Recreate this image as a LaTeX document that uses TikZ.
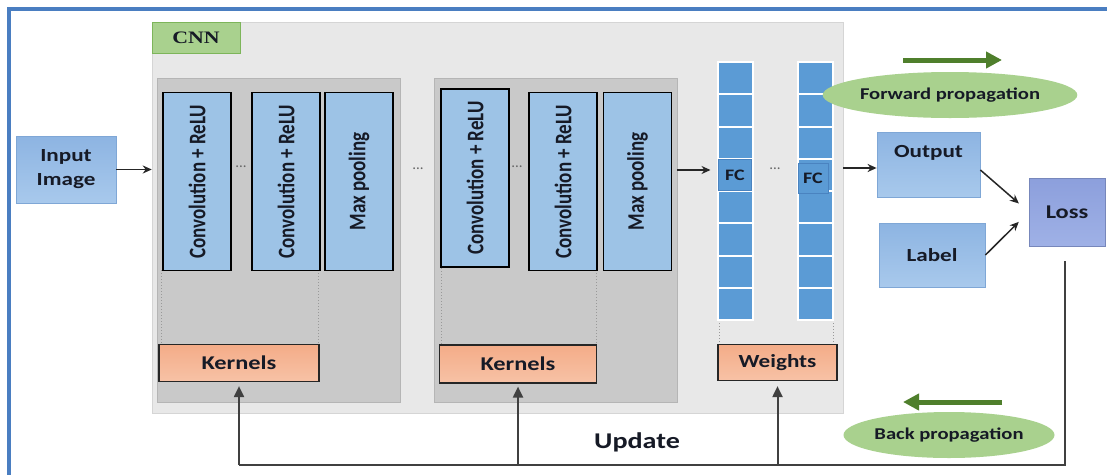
\documentclass[tikz,border=0pt]{standalone}
\usepackage{fontspec}
\usepackage{graphicx}
\setmainfont{Carlito}
\newfontfamily\wf[FakeStretch=1.25]{Carlito}
\newfontfamily\cnnf[FakeStretch=1.25]{Liberation Serif}
\usetikzlibrary{arrows.meta,shapes.geometric,shadings}
\definecolor{frameblue}{HTML}{4A7EC1}
\definecolor{panelA}{HTML}{E8E8E8}
\definecolor{panelB}{HTML}{C9C9C9}
\definecolor{convblue}{HTML}{9DC3E6}
\definecolor{fcblue}{HTML}{5B9BD5}
\definecolor{fcedge}{HTML}{4A83C0}
\definecolor{kerntop}{HTML}{F4AC88}
\definecolor{kernbot}{HTML}{F7C2A6}
\definecolor{cnngreen}{HTML}{A9D18E}
\definecolor{cnnedge}{HTML}{7DB55A}
\definecolor{ellgreen}{HTML}{A9D18E}
\definecolor{arrgreen}{HTML}{4F7F2C}
\definecolor{bxtop}{HTML}{8DB4E2}
\definecolor{bxbot}{HTML}{A8C9EC}
\definecolor{bxedge}{HTML}{7FA7D6}
\definecolor{losstop}{HTML}{8C9FDC}
\definecolor{lossbot}{HTML}{9FB1E6}
\definecolor{txt}{HTML}{161A26}
\definecolor{updgray}{HTML}{404040}
\newcommand{\vtxt}[1]{\scalebox{1}[1.25]{#1}}
\begin{document}
\begin{tikzpicture}[x=1pt,y=-1pt,
  convbox/.style={draw=black, line width=1.6pt, fill=convblue, minimum width=178pt,
    minimum height=68pt, rotate=90, inner sep=0pt, text=txt,
    font=\bfseries\fontsize{19}{19}\selectfont},
  panelin/.style={fill=panelB, draw=panelB!90!black, line width=0.6pt, minimum width=243pt,
    minimum height=324pt, inner sep=0pt},
  kernbox/.style={draw=black!85, line width=1.2pt, top color=kerntop, bottom color=kernbot,
    minimum height=37pt, inner sep=0pt, text=txt, font=\wf\bfseries\fontsize{19.5}{19.5}\selectfont},
  bluebox/.style={draw=bxedge, line width=0.8pt, top color=bxtop, bottom color=bxbot,
    inner sep=0pt, text=txt, font=\wf\bfseries\fontsize{18.5}{24}\selectfont, align=center},
  fccol/.style={draw=white, line width=2pt, fill=fcblue, minimum width=35pt,
    minimum height=258pt, inner sep=0pt},
  fclab/.style={draw=fcedge, line width=0.6pt, fill=fcblue, inner sep=0pt, text=txt,
    font=\wf\bfseries\fontsize{16}{16}\selectfont},
  ell/.style={ellipse, fill=ellgreen, minimum width=211pt, minimum height=46pt, inner sep=0pt,
    text=txt, font=\wf\bfseries\fontsize{16.5}{16.5}\selectfont},
  dots/.style={text=black!60, font=\fontsize{15}{15}\selectfont, inner sep=0pt},
  dotln/.style={draw=black!40, line width=1pt, dotted},
  flow/.style={draw=black!85, line width=1.5pt, -{Stealth[length=9pt,width=8pt]}},
  upd/.style={draw=updgray, line width=2pt},
  updarr/.style={upd, -{Triangle[length=11pt,width=10pt]}},
  garr/.style={draw=arrgreen, line width=5pt, -{Triangle[length=16pt,width=16pt]}},
]
\useasboundingbox (0,0) rectangle (1107,474);
\clip (0,0) rectangle (1107,474);
\fill[white] (0,0) rectangle (1107,474);
% outer frame (top and left edges)
\draw[frameblue, line width=3.5pt] (9,500) -- (9,9) -- (1120,9);

% CNN panel
\node[fill=panelA, draw=panelA!92!black, line width=0.5pt, minimum width=691pt, minimum height=391pt,
  inner sep=0pt] (cnn) at (497.5,217.5) {};
\node[fill=cnngreen, draw=cnnedge, line width=1pt, minimum width=88pt, minimum height=31pt,
  inner sep=0pt, text=txt, font=\cnnf\bfseries\fontsize{17.5}{17.5}\selectfont] (cnnlab) at (196,37.5) {CNN};

% inner panels
\node[panelin] (p1) at (278.5,240) {};
\node[panelin] (p2) at (555.5,240) {};

% dotted guide lines
\draw[dotln] (161.5,270) -- (161.5,345);
\draw[dotln] (318.5,270) -- (318.5,345);
\draw[dotln] (441,268) -- (441,345);
\draw[dotln] (596.5,270) -- (596.5,345);
\draw[dotln] (719,320) -- (719,345);
\draw[dotln] (833,320) -- (833,345);

% conv boxes, panel 1
\node[convbox] (c1) at (197,181.5) {\vtxt{Convolution + ReLU}};
\node[convbox] (c2) at (286,181.5) {\vtxt{Convolution + ReLU}};
\node[convbox] (m1) at (359,181.5) {\vtxt{Max pooling}};
% conv boxes, panel 2
\node[convbox] (c3) at (475,178) {\vtxt{Convolution + ReLU}};
\node[convbox] (c4) at (563,181.5) {\vtxt{Convolution + ReLU}};
\node[convbox] (m2) at (637.5,181.5) {\vtxt{Max pooling}};

\node[dots] (d1) at (241,167) {...};
\node[dots] (d2) at (418,169) {...};
\node[dots] (d3) at (517,167) {...};
\node[dots] (d4) at (775,169) {...};

% kernels and weights
\node[kernbox, minimum width=160pt] (k1) at (239,363) {Kernels};
\node[kernbox, minimum width=157pt, minimum height=38pt] (k2) at (518,364) {Kernels};
\node[kernbox, minimum width=119pt, minimum height=36pt, font=\wf\bfseries\fontsize{18.5}{18.5}\selectfont] (w) at (777.5,362.5) {Weights};

% FC columns
\node[fccol] (fc1) at (735,191) {};
\node[fccol] (fc2) at (815,191) {};
\foreach \yy in {94.25,126.5,158.75,191,223.25,255.5,287.75}{
  \draw[white, line width=2pt] (fc1.west |- 0,\yy) -- (fc1.east |- 0,\yy);
  \draw[white, line width=2pt] (fc2.west |- 0,\yy) -- (fc2.east |- 0,\yy);
}
\node[fclab, minimum width=33pt, minimum height=31pt] (fcl1) at (735,175) {FC};
\node[fclab, minimum width=30pt, minimum height=30pt] (fcl2) at (813,178) {FC};

% input / output / label / loss
\node[bluebox, minimum width=100pt, minimum height=67pt] (in) at (66,169.5) {Input\\Image};
\node[bluebox, minimum width=103pt, minimum height=65pt] (out) at (928.5,165) {Output\\[4pt]};
\node[bluebox, minimum width=106pt, minimum height=64pt] (lab) at (932,255) {Label};
\node[draw=losstop!85!black, line width=0.6pt, top color=losstop, bottom color=lossbot,
  minimum width=76pt, minimum height=68pt, inner sep=0pt, text=txt,
  font=\wf\bfseries\fontsize{19.5}{19.5}\selectfont] (loss) at (1067,212) {Loss};

% flow arrows
\draw[flow] (in.east) -- (in.east -| cnn.west);
\draw[flow] (p2.east |- 0,170) -- ([xshift=-6pt]fc1.west |- 0,170);
\draw[flow] (cnn.east |- 0,168) -- (out.west |- 0,168);
\draw[flow, shorten >=13pt] ([yshift=-5pt]out.east) -- (loss.west);
\draw[flow, shorten >=14pt] (lab.east) -- (loss.west);

% update path
\coordinate (ls) at (1065,261);
\coordinate (br) at (1065,465);
\coordinate (bl) at (239,465);
\draw[upd] (ls) -- (br) -- (bl);
\draw[updarr, shorten >=4pt] (bl) -- (k1.south);
\draw[updarr, shorten >=3pt] (k2.south |- bl) -- (k2.south);
\draw[updarr, shorten >=5pt] (w.south |- bl) -- (w.south);
\node[text=txt, font=\wf\bfseries\fontsize{22.5}{22.5}\selectfont] (upd) at (637,442) {Update};

% propagation legend
\node[ell] (fwd) at (950,95) {Forward propagation};
\node[ell] (bwd) at (949,435) {Back propagation};
\coordinate (fa) at (903,60);
\coordinate (fb) at (1002,60);
\coordinate (ba) at (1002,402);
\coordinate (bb) at (903,402);
\draw[garr] (fa) -- (fb);
\draw[garr] (ba) -- (bb);
\end{tikzpicture}
\end{document}
